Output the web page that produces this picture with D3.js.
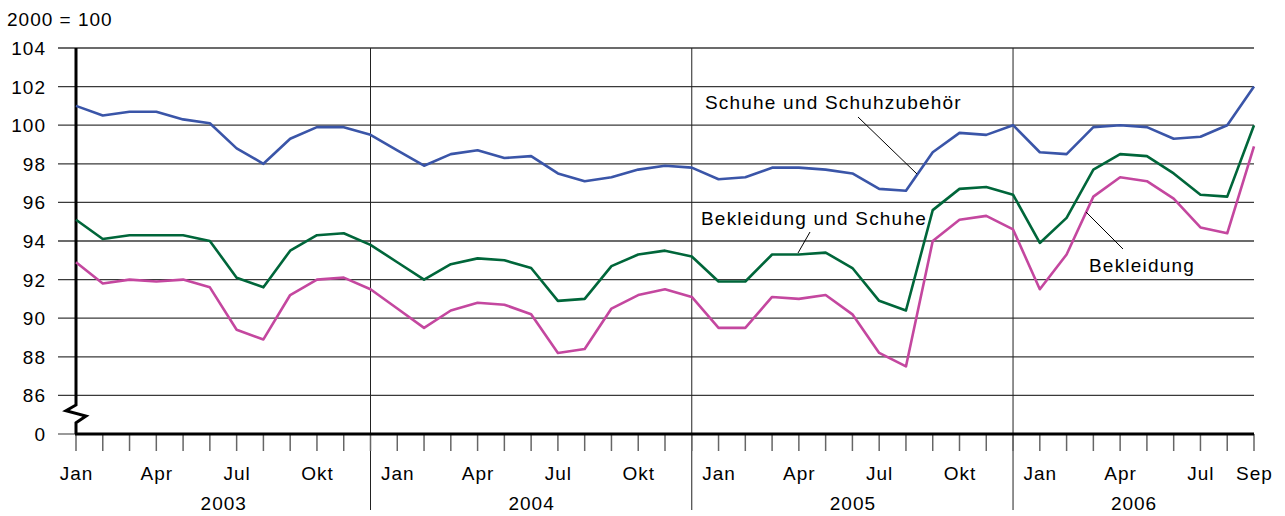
<!DOCTYPE html>
<html>
<head>
<meta charset="utf-8">
<script src="https://cdn.jsdelivr.net/npm/d3@7"></script>
<style>
  body { margin: 0; background: #fff; }
  svg text { font-family: "Liberation Sans", Arial, sans-serif; fill: #000; font-size: 19px; letter-spacing: 1px; }
</style>
</head>
<body>
<div id="chart"></div>
<script>
// monthly values Jan 2003 .. Sep 2006 (2000 = 100)
const years = ["2003", "2004", "2005", "2006"];
const monthTickLabels = ["Jan", "", "", "Apr", "", "", "Jul", "", "", "Okt", "", ""];
const schuhe = [
  101.0, 100.5, 100.7, 100.7, 100.3, 100.1, 98.8, 98.0, 99.3, 99.9, 99.9, 99.5,
  98.7, 97.9, 98.5, 98.7, 98.3, 98.4, 97.5, 97.1, 97.3, 97.7, 97.9, 97.8,
  97.2, 97.3, 97.8, 97.8, 97.7, 97.5, 96.7, 96.6, 98.6, 99.6, 99.5, 100.0,
  98.6, 98.5, 99.9, 100.0, 99.9, 99.3, 99.4, 100.0, 102.0
];
const bekleidungSchuhe = [
  95.1, 94.1, 94.3, 94.3, 94.3, 94.0, 92.1, 91.6, 93.5, 94.3, 94.4, 93.8,
  92.9, 92.0, 92.8, 93.1, 93.0, 92.6, 90.9, 91.0, 92.7, 93.3, 93.5, 93.2,
  91.9, 91.9, 93.3, 93.3, 93.4, 92.6, 90.9, 90.4, 95.6, 96.7, 96.8, 96.4,
  93.9, 95.2, 97.7, 98.5, 98.4, 97.5, 96.4, 96.3, 100.0
];
const bekleidung = [
  92.9, 91.8, 92.0, 91.9, 92.0, 91.6, 89.4, 88.9, 91.2, 92.0, 92.1, 91.5,
  90.5, 89.5, 90.4, 90.8, 90.7, 90.2, 88.2, 88.4, 90.5, 91.2, 91.5, 91.1,
  89.5, 89.5, 91.1, 91.0, 91.2, 90.2, 88.2, 87.5, 94.0, 95.1, 95.3, 94.6,
  91.5, 93.3, 96.3, 97.3, 97.1, 96.2, 94.7, 94.4, 98.9
];
const yTicks = [86, 88, 90, 92, 94, 96, 98, 100, 102, 104];

const width = 1285, height = 516;
const plotLeft = 76, plotRight = 1254, plotTop = 48, plotBottom = 434;
const nMonths = schuhe.length;

const svg = d3.select("#chart").append("svg")
    .attr("width", width)
    .attr("height", height);

const x = d3.scaleLinear().domain([0, nMonths - 1]).range([plotLeft, plotRight]);
// broken axis: the "0" sits one step below 86
const y = d3.scaleLinear().domain([84, 104]).range([plotBottom, plotTop]);

// unit label
svg.append("text")
    .attr("x", 7).attr("y", 26)
    .text("2000 = 100");

// horizontal grid
svg.append("g").selectAll("line")
    .data(yTicks)
    .enter().append("line")
    .attr("x1", 58).attr("x2", plotRight)
    .attr("y1", d => y(d)).attr("y2", d => y(d))
    .attr("stroke", "#3a3a3a")
    .attr("stroke-width", 1.3);

svg.append("line")
    .attr("x1", 58).attr("x2", plotLeft)
    .attr("y1", y(84)).attr("y2", y(84))
    .attr("stroke", "#777").attr("stroke-width", 1.5);

// y labels
svg.append("g").selectAll("text")
    .data(yTicks.map(d => [d, String(d)]).concat([[84, "0"]]))
    .enter().append("text")
    .attr("x", 46)
    .attr("y", d => y(d[0]) + 7)
    .attr("text-anchor", "end")
    .text(d => d[1]);

// year separators at the December ticks
const dividers = [11, 23, 35];
svg.append("g").selectAll("line")
    .data(dividers)
    .enter().append("line")
    .attr("x1", d => x(d)).attr("x2", d => x(d))
    .attr("y1", plotTop).attr("y2", 510)
    .attr("stroke", "#222")
    .attr("stroke-width", 1);

// month ticks
svg.append("g").selectAll("line")
    .data(d3.range(nMonths))
    .enter().append("line")
    .attr("x1", d => x(d)).attr("x2", d => x(d))
    .attr("y1", plotBottom).attr("y2", 451)
    .attr("stroke", "#666")
    .attr("stroke-width", 1.5);

// month labels
const monthLabels = d3.range(nMonths).map(i => i === nMonths - 1 ? "Sep" : monthTickLabels[i % 12]);
svg.append("g").selectAll("text")
    .data(monthLabels.map((t, i) => [i, t]).filter(d => d[1] !== ""))
    .enter().append("text")
    .attr("x", d => x(d[0]) + 0.5)
    .attr("y", 480)
    .attr("text-anchor", "middle")
    .text(d => d[1]);

// year labels
const bounds = [0].concat(dividers).concat([nMonths - 1]);
svg.append("g").selectAll("text")
    .data(years)
    .enter().append("text")
    .attr("x", (d, i) => (x(bounds[i]) + x(bounds[i + 1])) / 2 + 0.5)
    .attr("y", 510)
    .attr("text-anchor", "middle")
    .text(d => d);

// axes
svg.append("line")
    .attr("x1", plotLeft - 1).attr("x2", plotRight)
    .attr("y1", plotBottom).attr("y2", plotBottom)
    .attr("stroke", "#000").attr("stroke-width", 3);

svg.append("path")
    .attr("d", `M${plotLeft},${plotTop} L${plotLeft},405 L${plotLeft - 10},410.7 L${plotLeft + 10},416 L${plotLeft},422.7 L${plotLeft},${plotBottom}`)
    .attr("fill", "none")
    .attr("stroke", "#000")
    .attr("stroke-width", 3);

// series
const line = d3.line().x((d, i) => x(i)).y(d => y(d));
const series = [
    { values: schuhe, color: "#3a55a8" },
    { values: bekleidungSchuhe, color: "#00663a" },
    { values: bekleidung, color: "#c4479f" }
];
svg.append("g").selectAll("path")
    .data(series)
    .enter().append("path")
    .attr("d", d => line(d.values))
    .attr("fill", "none")
    .attr("stroke", d => d.color)
    .attr("stroke-width", 2.6)
    .attr("stroke-linejoin", "round");

// labels with leader lines
const notes = [
    { text: "Schuhe und Schuhzubehör", tx: 705, ty: 109, x1: 858, y1: 117, x2: 917, y2: 174 },
    { text: "Bekleidung und Schuhe", tx: 701, ty: 225, x1: 810, y1: 232, x2: 798, y2: 253 },
    { text: "Bekleidung", tx: 1089, ty: 272, x1: 1123, y1: 249, x2: 1086, y2: 212 }
];
svg.append("g").selectAll("line")
    .data(notes)
    .enter().append("line")
    .attr("x1", d => d.x1).attr("y1", d => d.y1)
    .attr("x2", d => d.x2).attr("y2", d => d.y2)
    .attr("stroke", "#000").attr("stroke-width", 1);
svg.append("g").selectAll("text")
    .data(notes)
    .enter().append("text")
    .attr("x", d => d.tx).attr("y", d => d.ty)
    .attr("style", "letter-spacing: 1.2px;")
    .text(d => d.text);
</script>
</body>
</html>
